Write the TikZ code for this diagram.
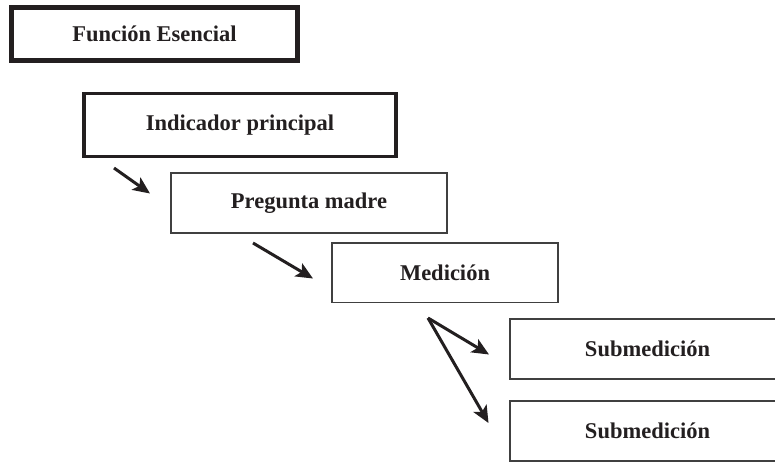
\documentclass[tikz,border=0pt]{standalone}
\usepackage{fontspec}
\setmainfont{Liberation Serif}
\usetikzlibrary{arrows.meta}
\definecolor{ink}{HTML}{231F20}
\definecolor{thin}{HTML}{404040}
\begin{document}
\begin{tikzpicture}[x=1pt,y=-1pt,
  lbl/.style={font=\fontsize{22.5}{26}\selectfont\bfseries, text=ink, inner sep=0pt},
  heavybox/.style={lbl, draw=ink, line width=5pt},
  midbox/.style={lbl, draw=ink, line width=3.5pt},
  thinbox/.style={lbl, draw=thin, line width=1.5pt},
  arr/.style={draw=ink, line width=3pt, -{Stealth[length=17pt,width=15pt,inset=4pt]}}]
\clip (0,0) rectangle (775,461);
\fill[white] (0,0) rectangle (775,461);
\node[heavybox, minimum width=286pt, minimum height=53.5pt] (fe) at (154.5,33.75) {Función Esencial};
\node[midbox, minimum width=312pt, minimum height=63.2pt] (ip) at (240,124.9) {Indicador principal};
\node[thinbox, minimum width=276pt, minimum height=60pt] (pm) at (309,203) {Pregunta madre};
\node[thinbox, minimum width=226pt, minimum height=59.5pt] (me) at (445,272.75) {Medición};
\node[thinbox, minimum width=275pt, minimum height=60pt] (s1) at (647.5,349) {Submedición};
\node[thinbox, minimum width=275pt, minimum height=60pt] (s2) at (647.5,431) {Submedición};
\coordinate (a1s) at (114,168);
\coordinate (a1e) at (150,193.5);
\coordinate (a2s) at (253,243);
\coordinate (a2e) at (313,278.5);
\coordinate (a3s) at (428,318);
\coordinate (a3e) at (489,354.5);
\coordinate (a4e) at (488.5,423);
\draw[arr] (a1s) -- (a1e);
\draw[arr] (a2s) -- (a2e);
\draw[arr] (a3s) -- (a3e);
\draw[arr] (a3s) -- (a4e);
\end{tikzpicture}
\end{document}
